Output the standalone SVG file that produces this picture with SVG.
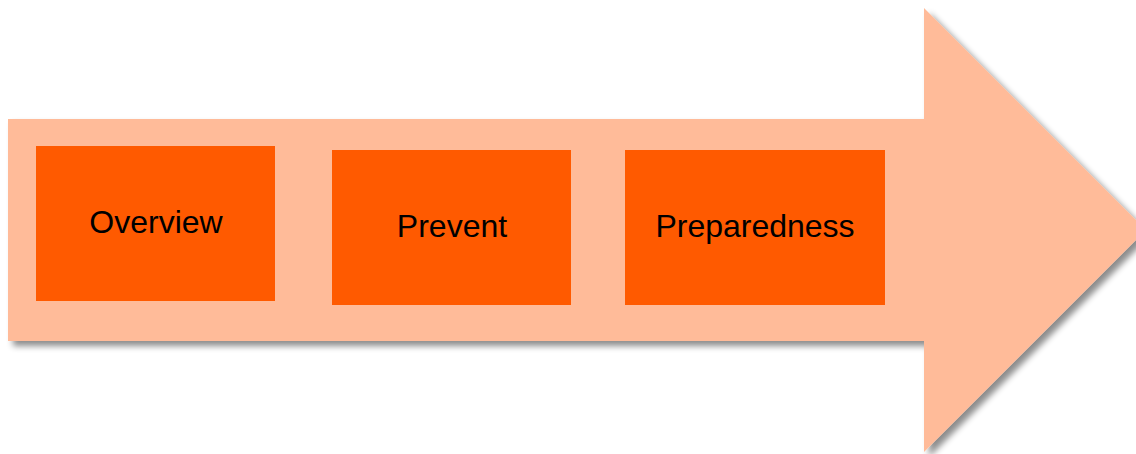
<svg xmlns="http://www.w3.org/2000/svg" width="1136" height="454" viewBox="0 0 1136 454">
  <style>
    .box { fill: #FF5A00; }
    .lbl { font-family: "Liberation Sans", Arial, sans-serif; font-size: 32px; fill: #000; text-anchor: middle; }
  </style>
  <defs>
    <filter id="sh" x="-5%" y="-5%" width="115%" height="115%">
      <feGaussianBlur in="SourceAlpha" stdDeviation="3"/>
      <feOffset dx="5" dy="5" result="b"/>
      <feFlood flood-color="#000" flood-opacity="0.45"/>
      <feComposite in2="b" operator="in"/>
      <feMerge><feMergeNode/><feMergeNode in="SourceGraphic"/></feMerge>
    </filter>
  </defs>
  <rect width="1136" height="454" fill="#fff"/>
  <g id="arrow">
    <polygon points="8,119 924,119 924,8 1146,230 924,452 924,341 8,341" fill="#FFBB99" filter="url(#sh)"/>
  </g>
  <g id="overview">
    <rect class="box" x="36" y="146" width="239" height="155"/>
    <text class="lbl" x="156" y="233">Overview</text>
  </g>
  <g id="prevent">
    <rect class="box" x="332" y="150" width="239" height="155"/>
    <text class="lbl" x="452" y="237">Prevent</text>
  </g>
  <g id="preparedness">
    <rect class="box" x="625" y="150" width="260" height="155"/>
    <text class="lbl" x="755" y="237">Preparedness</text>
  </g>
  <g id="connectors"></g>
</svg>
